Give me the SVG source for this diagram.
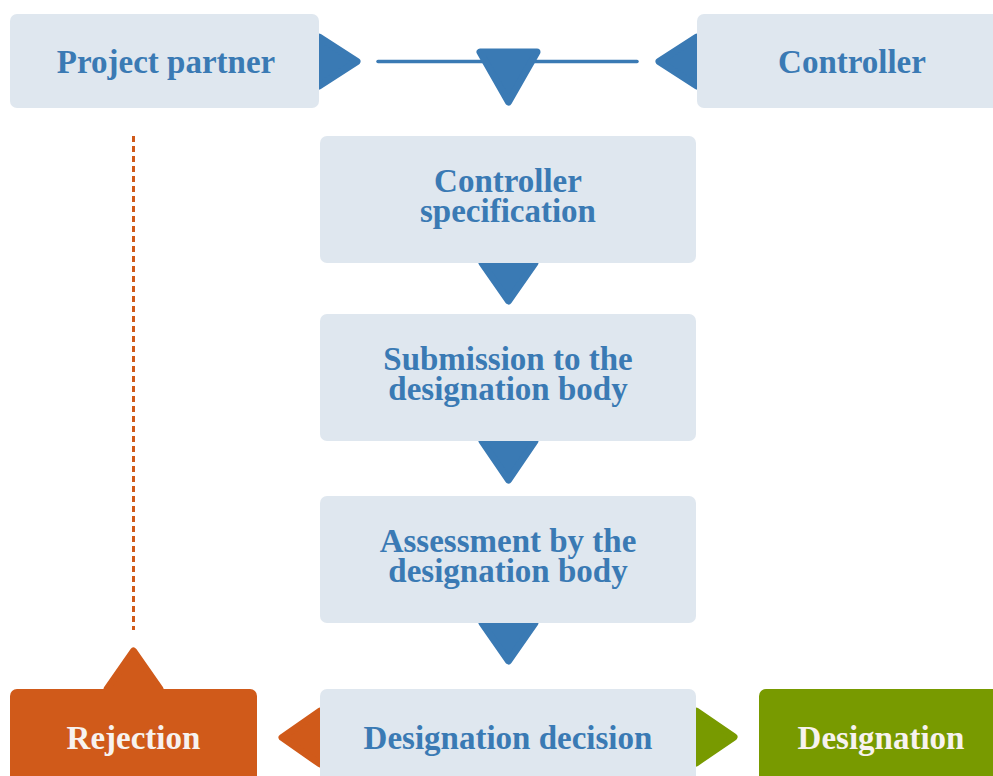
<svg xmlns="http://www.w3.org/2000/svg" width="993" height="776" viewBox="0 0 993 776">
<style>
.box{fill:#dfe7ef}
.t{font-family:"Liberation Serif","Times New Roman",serif;font-weight:bold;font-size:33px;text-anchor:middle;fill:#3a7ab4}
.tw{font-family:"Liberation Serif","Times New Roman",serif;font-weight:bold;font-size:33px;text-anchor:middle;fill:#f7f2ef}
.ab{fill:#3a7ab4;stroke:#3a7ab4;stroke-width:7;stroke-linejoin:round}
.ao{fill:#d05a1a;stroke:#d05a1a;stroke-width:7;stroke-linejoin:round}
.ag{fill:#789a00;stroke:#789a00;stroke-width:7;stroke-linejoin:round}
</style>
<rect width="993" height="776" fill="#ffffff"/>
<g id="connectors">
<line x1="378" y1="61.5" x2="637" y2="61.5" stroke="#3a7ab4" stroke-width="3.5" stroke-linecap="round"/>
<polygon class="ab" points="319,37 357,61.5 319,86"/>
<polygon class="ab" points="697,37 659,61.5 697,86"/>
<polygon class="ab" points="480,52 537,52 508.5,102"/>
<polygon class="ab" points="482,263 535,263 508.5,301"/>
<polygon class="ab" points="482,441 535,441 508.5,480"/>
<polygon class="ab" points="482,623 535,623 508.5,661"/>
<polygon class="ao" points="320,711 282,737.5 320,764"/>
<polygon class="ag" points="696,711 734,737 696,763"/>
<polygon class="ao" points="107,689 133.5,651 160,689"/>
<line x1="133.5" y1="136" x2="133.5" y2="630" stroke="#d05a1a" stroke-width="3" stroke-dasharray="6 4"/>
</g>
<g id="project-partner">
<rect class="box" x="10" y="14" width="309" height="94" rx="7"/>
<text class="t" x="166" y="73">Project partner</text>
</g>
<g id="controller">
<rect class="box" x="697" y="14" width="310" height="94" rx="7"/>
<text class="t" x="852" y="73">Controller</text>
</g>
<g id="controller-specification">
<rect class="box" x="320" y="136" width="376" height="127" rx="7"/>
<text class="t" x="508" y="192">Controller</text>
<text class="t" x="508" y="222">specification</text>
</g>
<g id="submission">
<rect class="box" x="320" y="314" width="376" height="127" rx="7"/>
<text class="t" x="508" y="370">Submission to the</text>
<text class="t" x="508" y="400">designation body</text>
</g>
<g id="assessment">
<rect class="box" x="320" y="496" width="376" height="127" rx="7"/>
<text class="t" x="508" y="552">Assessment by the</text>
<text class="t" x="508" y="582">designation body</text>
</g>
<g id="designation-decision">
<rect class="box" x="320" y="689" width="376" height="100" rx="7"/>
<text class="t" x="508" y="749">Designation decision</text>
</g>
<g id="rejection">
<rect x="10" y="689" width="247" height="100" rx="7" fill="#d05a1a"/>
<text class="tw" x="133.5" y="749">Rejection</text>
</g>
<g id="designation">
<rect x="759" y="689" width="250" height="100" rx="7" fill="#789a00"/>
<text class="tw" x="881" y="749">Designation</text>
</g>
</svg>
